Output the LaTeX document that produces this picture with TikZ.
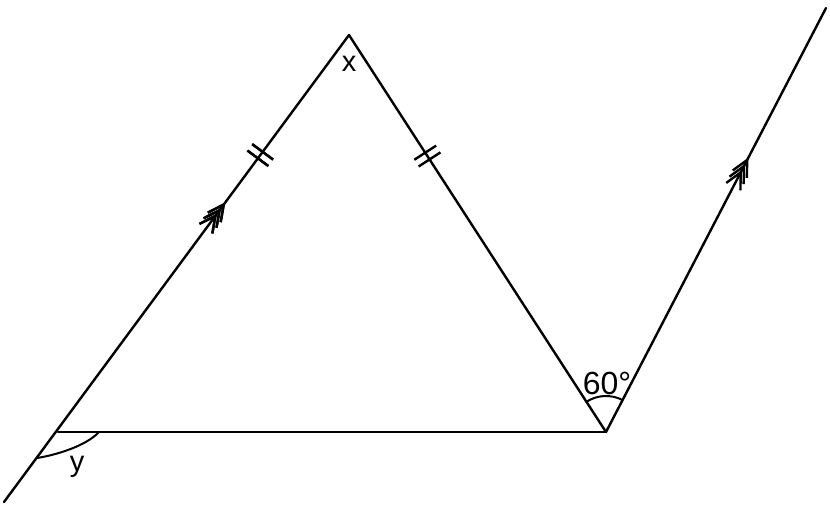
\documentclass[tikz,border=0pt]{standalone}
\usepackage{fontspec}
\setmainfont{Liberation Sans}
\usetikzlibrary{decorations.markings,calc}
\begin{document}
\begin{tikzpicture}[x=1pt,y=-1pt,line width=2.4pt,line cap=round,
  lbl/.style={inner sep=0pt,font=\fontsize{29}{34}\selectfont},
  chev/.style={postaction={decorate},decoration={markings,
    mark=at position #1 with {
      \foreach \s in {-7,0,7}{\draw[line width=2.4pt,line cap=butt] (\s-16pt,8pt) -- (\s pt,0) -- (\s-16pt,-8pt);}
    }}},
  ticks/.style={postaction={decorate},decoration={markings,
    mark=at position #1 with {
      \foreach \s in {-4,4}{\draw[line width=2.4pt,line cap=butt] (\s pt,-13pt) -- (\s pt,13pt);}
    }}}]
\useasboundingbox (0,0) rectangle (830,511);
\coordinate (A) at (349,35);
\coordinate (B) at (58,432);
\coordinate (C) at (606,432);
\coordinate (D) at (4,502);
\coordinate (E) at (826,8);
\coordinate (Y1) at (99,432);
\coordinate (Y2) at (37,458);
% lines
\draw[chev=0.625,ticks=0.743] (D) -- (A);
\draw[ticks=0.305] (A) -- (C);
\draw (B) -- (C);
\draw[chev=0.627] (C) -- (E);
% angle arcs
\draw[line width=2pt] (Y1) .. controls (86,446) and (56,455) .. (Y2);
\draw[line width=2pt] ($(C)+(-122.9:36)$) arc[start angle=-122.9,end angle=-62.6,radius=36];
% labels
\node[lbl] (lx) at (349,64) {x};
\node[lbl,anchor=base] (ly) at (77,471) {y};
\node[lbl,font=\fontsize{32}{38}\selectfont] (l60) at (607,383) {60°};
\end{tikzpicture}
\end{document}
